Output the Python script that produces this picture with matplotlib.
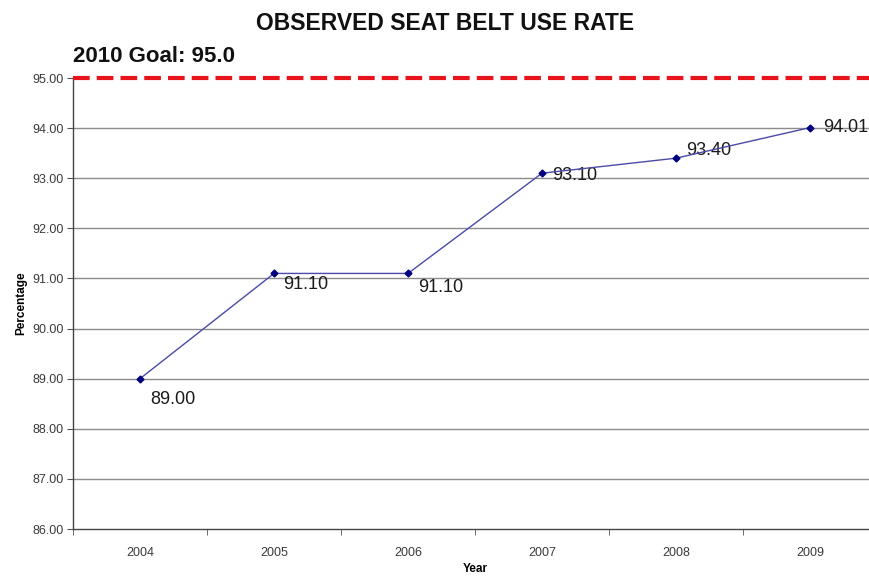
import matplotlib
matplotlib.use('Agg')
import matplotlib.pyplot as plt

years = ['2004', '2005', '2006', '2007', '2008', '2009']
rates = [89.00, 91.10, 91.10, 93.10, 93.40, 94.01]
goal = 95.0
y_ticks = [86, 87, 88, 89, 90, 91, 92, 93, 94, 95]

# label offsets in pixels (dx, dy), matching the hand placed labels
label_offsets = [(10, -21), (9, -11), (10, -14), (10, -2), (10, 8), (13, 0)]

plt.rcParams['font.family'] = ['Liberation Sans', 'DejaVu Sans']

fig = plt.figure(figsize=(8.7, 5.76), dpi=100)
ax = fig.add_axes([73 / 870, 1 - 529 / 576, 804 / 870, (529 - 78) / 576])

x = list(range(len(years)))

# grid lines
for v in y_ticks[1:-1]:
    ax.axhline(v, color='#8c8c8c', linewidth=1, zorder=1)

# goal line
ax.axhline(goal, color='#e8141b', linewidth=3, linestyle=(0, (4, 1.7)), zorder=3,
           clip_on=False)

ax.plot(x, rates, color='#4a4aa8', linewidth=1, marker='D', markersize=3.5,
        markerfacecolor='#000080', markeredgecolor='#000080', zorder=4)

for xi, r, (dx, dy) in zip(x, rates, label_offsets):
    ax.annotate(f'{r:.2f}', (xi, r), xytext=(dx * 0.72, dy * 0.72),
                textcoords='offset points', ha='left', va='center',
                fontsize=13, color='#1a1a1a')

ax.set_xlim(-0.5, len(years) - 0.5)
ax.set_ylim(86, 95)
ax.set_yticks(y_ticks)
ax.set_yticklabels([f'{v:.2f}' for v in y_ticks], fontsize=9, color='#3a3a3a')
ax.set_xticks(x)
ax.set_xticklabels(years, fontsize=9, color='#3a3a3a')
ax.set_xticks([i + 0.5 for i in range(-1, len(years))], minor=True)
ax.tick_params(axis='x', which='major', length=0, pad=13)
ax.tick_params(axis='x', which='minor', length=4, direction='out', color='#555555')
ax.tick_params(axis='y', length=4, direction='out', color='#555555', pad=3)

for side in ['top', 'right']:
    ax.spines[side].set_visible(False)
for side in ['left', 'bottom']:
    ax.spines[side].set_color('#444444')
    ax.spines[side].set_linewidth(1)

ax.set_xlabel('Year', fontsize=8.5, fontweight='bold', labelpad=3)
ax.set_ylabel('Percentage', fontsize=8.5, fontweight='bold', labelpad=3)

fig.text(445 / 870, 1 - 23 / 576, 'OBSERVED SEAT BELT USE RATE', ha='center',
         va='center', fontsize=16.5, fontweight='bold', color='#111111')
fig.text(73 / 870, 1 - 56 / 576, '2010 Goal: 95.0', ha='left', va='center',
         fontsize=16, fontweight='bold', color='#111111')

fig.savefig('out.png', dpi=100)
